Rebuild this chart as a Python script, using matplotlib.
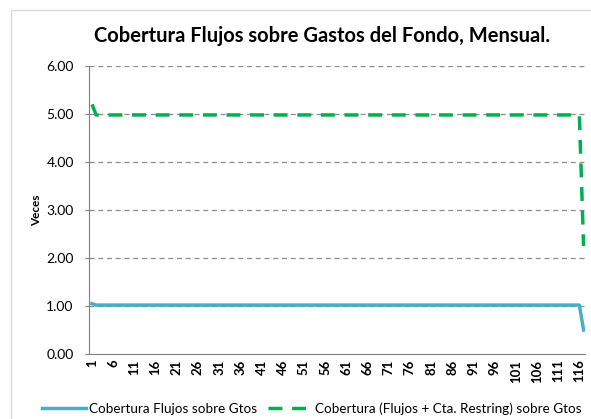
import matplotlib
matplotlib.use("Agg")
import matplotlib.pyplot as plt
from matplotlib.patches import Rectangle

plt.rcParams['font.family'] = ['Lato', 'DejaVu Sans']

# months 1..117
months = list(range(1, 118))
flujos = [1.05] + [1.02] * 115 + [0.50]
flujos_cta = [5.20] + [4.98] * 115 + [2.25]
tick_labels = list(range(1, 118, 5))

fig = plt.figure(figsize=(5.91, 4.19), dpi=100)
fig.patches.append(Rectangle((11 / 591, -0.1), 1.2, 1 - 10 / 419 + 0.1,
                             transform=fig.transFigure, fill=False,
                             edgecolor='#d9d9d9', linewidth=1.0))
ax = fig.add_axes([0.1506, 0.155, 0.839, 0.6875])

ax.plot(months, flujos, color='#4bacc6', linewidth=2.5,
        label='Cobertura Flujos sobre Gtos', zorder=3)
ax.plot(months, flujos_cta, color='#00b050', linewidth=2.5,
        dashes=(4, 2.8), label='Cobertura (Flujos + Cta. Restring) sobre Gtos', zorder=3)

ax.set_xlim(0.3, 117.3)
ax.set_ylim(0, 6)
ax.set_yticks([0, 1, 2, 3, 4, 5, 6])
ax.set_yticklabels(['%.2f' % v for v in [0, 1, 2, 3, 4, 5, 6]], fontsize=10)
ax.set_xticks(tick_labels)
ax.set_xticklabels([str(t) for t in tick_labels], rotation=90, fontsize=9.5,
                   fontweight='bold')
ax.tick_params(axis='x', length=0, pad=4)
ax.tick_params(axis='y', length=3, color='#808080', pad=8)

for y in [1, 2, 3, 4, 5, 6]:
    ax.axhline(y, color='#8c8c8c', linewidth=0.9, dashes=(4, 3), zorder=1)

for s in ['top', 'right']:
    ax.spines[s].set_visible(False)
ax.spines['left'].set_color('#808080')
ax.spines['bottom'].set_color('#808080')

ax.set_ylabel('Veces', fontsize=8.5, fontweight='bold', labelpad=3)

fig.text(0.545, 0.915, 'Cobertura Flujos sobre Gastos del Fondo, Mensual.',
         ha='center', va='center', fontsize=14.5, fontweight='bold')

fig.legend(loc='center', bbox_to_anchor=(0.527, 0.025), ncol=2, frameon=False,
           fontsize=9.7, handlelength=3.3, columnspacing=0.8, handletextpad=0.2)

fig.savefig('out.png', dpi=100)
